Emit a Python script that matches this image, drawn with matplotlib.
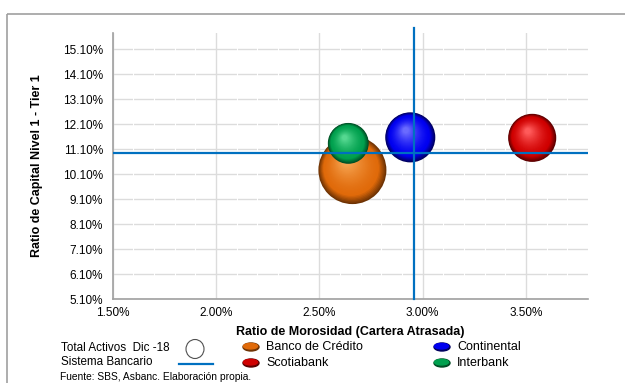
import numpy as np
import matplotlib
matplotlib.use('Agg')
import matplotlib.pyplot as plt
from matplotlib.patches import Ellipse, Rectangle
from matplotlib.lines import Line2D
from matplotlib.transforms import offset_copy
from matplotlib.colors import to_rgb

plt.rcParams['font.family'] = ['Liberation Sans', 'DejaVu Sans']

# data (Dic-18)
bancos = ['Banco de Crédito', 'Continental', 'Scotiabank', 'Interbank']
morosidad = [2.66, 2.94, 3.53, 2.64]        # % cartera atrasada
tier1 = [10.26, 11.57, 11.55, 11.33]        # % capital nivel 1
activos = [144, 78, 72, 52]                 # total activos (estimado)
sistema_morosidad = 2.96
sistema_tier1 = 10.93

x_ticks = [1.5, 2.0, 2.5, 3.0, 3.5]
y_ticks = [5.1, 6.1, 7.1, 8.1, 9.1, 10.1, 11.1, 12.1, 13.1, 14.1, 15.1]

# colours: dark edge, base, highlight
colores = {
    'Banco de Crédito': ('#6e3304', '#e06a0a', '#f7a552'),
    'Continental': ('#000060', '#0000f0', '#6a6aff'),
    'Scotiabank': ('#5c0000', '#d00000', '#ff5a5a'),
    'Interbank': ('#004d24', '#00a04e', '#55d890'),
}

W, H = 625, 383
fig = plt.figure(figsize=(W / 100, H / 100), dpi=100)
ax = fig.add_axes([112.7 / W, 1 - 299 / H, (588 - 112.7) / W, (299 - 32.7) / H])

ax.set_xlim(1.5, 3.8)
ax.set_ylim(5.1, 15.76)
ax.set_axisbelow(True)
ax.set_xticks(x_ticks)
ax.set_yticks(y_ticks)
ax.set_xticklabels(['%.2f%%' % v for v in x_ticks], fontsize=8.5)
ax.set_yticklabels(['%.2f%%' % v for v in y_ticks], fontsize=8.5)
ax.tick_params(length=0)
ax.tick_params(axis='x', pad=5.5)
ax.tick_params(axis='y', pad=7)
ax.grid(True, color='#dcdcdc', lw=1.0)
# small white breaks in the horizontal grid lines
for xm in np.arange(1.6, 3.8, 0.1):
    if abs(xm * 2 - round(xm * 2)) > 1e-6:
        ax.axvline(xm, color='white', lw=0.8, zorder=0.7)
for s in ['top', 'right']:
    ax.spines[s].set_visible(False)
for s in ['left', 'bottom']:
    ax.spines[s].set_color('#a0a0a0')
    ax.spines[s].set_linewidth(1.2)


def mix(c1, c2, t):
    return tuple(np.array(to_rgb(c1)) * (1 - t) + np.array(to_rgb(c2)) * t)


# shaded bubbles
rmax = 34.0  # px radius of the biggest bubble
for i, b in enumerate(bancos):
    dark, base, light = colores[b]
    r_pt = rmax * np.sqrt(activos[i] / max(activos)) * 0.72
    n = 30
    for k in range(n):
        t = k / (n - 1)
        r = r_pt * (1 - 0.88 * t)
        dx = -0.18 * r_pt * t
        dy = 0.28 * r_pt * t
        if t < 0.2:
            col = mix(dark, base, t / 0.2)
        else:
            col = mix(base, light, ((t - 0.2) / 0.8) ** 1.5)
        tr = offset_copy(ax.transData, fig=fig, x=dx, y=dy, units='points')
        ax.scatter([morosidad[i]], [tier1[i]], s=(2 * r) ** 2, color=col,
                   edgecolors='none', transform=tr, zorder=3 + i)

# sistema bancario
ax.axhline(sistema_tier1, color='#0070c0', lw=1.6, zorder=10)
ax.axvline(sistema_morosidad, ymin=0, ymax=1.016, color='#0070c0', lw=1.6,
           zorder=10, clip_on=False)

# overlay in pixel coords for labels, legend and border
ov = fig.add_axes([0, 0, 1, 1])
ov.set_xlim(0, W)
ov.set_ylim(H, 0)
ov.axis('off')
ov.patch.set_alpha(0)

ov.add_patch(Rectangle((7, 14), W, H, fill=False, ec='#a0a0a0', lw=1.2))

ov.text(37, 166, 'Ratio de Capital Nivel 1 - Tier 1', rotation=90,
        ha='center', va='center', fontsize=9, fontweight='bold')
ov.text(350, 332, 'Ratio de Morosidad (Cartera Atrasada)',
        ha='center', va='center', fontsize=9, fontweight='bold')

ov.text(61, 348, 'Total Activos  Dic -18', ha='left', va='center', fontsize=8.4)
ov.text(61, 362, 'Sistema Bancario', ha='left', va='center', fontsize=8.4)
ov.add_patch(Ellipse((195, 349), 18, 19, fill=False, ec='#505050', lw=0.8))
ov.add_line(Line2D([179, 213], [364, 364], color='#0070c0', lw=1.6))

leg_pos = {
    'Banco de Crédito': (251, 347),
    'Scotiabank': (251, 363),
    'Continental': (442, 347),
    'Interbank': (442, 363),
}
for b in bancos:
    dark, base, light = colores[b]
    cx, cy = leg_pos[b]
    ov.add_patch(Ellipse((cx, cy), 16, 8, color=dark))
    ov.add_patch(Ellipse((cx - 0.5, cy - 0.8), 14, 5.5, color=base))
    ov.text(cx + 15, cy, b, ha='left', va='center', fontsize=9)

ov.text(60, 376.5, 'Fuente: SBS, Asbanc. Elaboración propia.', ha='left',
        va='center', fontsize=7.4)

fig.savefig('out.png', dpi=100)
